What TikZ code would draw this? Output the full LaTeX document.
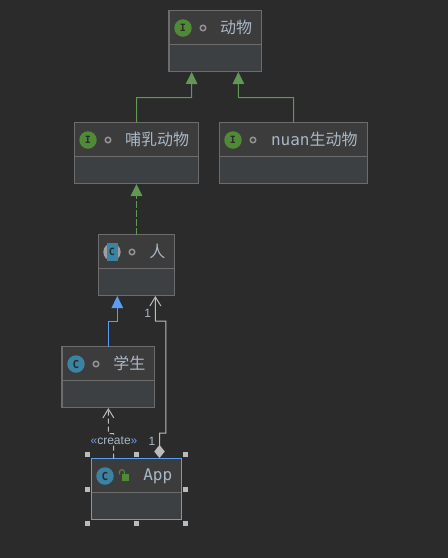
\documentclass[tikz,border=0pt]{standalone}
\usepackage{fontspec}
\setmainfont{Liberation Sans}
\newfontfamily\cjkf{Noto Sans CJK SC}
\newfontfamily\monof{DejaVu Sans Mono}
\usetikzlibrary{arrows.meta,calc}
\definecolor{bg}{HTML}{2B2B2B}
\definecolor{head}{HTML}{3C3C3C}
\definecolor{bodyc}{HTML}{3C4043}
\definecolor{edge}{HTML}{6C6C6C}
\definecolor{txt}{HTML}{A9B7C6}
\definecolor{grn}{HTML}{629755}
\definecolor{grnicon}{HTML}{4F8A35}
\definecolor{blu}{HTML}{589DF6}
\definecolor{teal}{HTML}{3A83A3}
\definecolor{wht}{HTML}{BBBBBB}
\tikzset{
  umlbox/.style={fill=bodyc,anchor=north west,outer sep=0pt,inner sep=0pt,minimum height=61pt,
    path picture={
      \fill[head] (path picture bounding box.north west) rectangle ($(path picture bounding box.north east)+(0,34)$);
      \draw[edge,line width=.8pt] ($(path picture bounding box.north west)+(0,34)$) -- ($(path picture bounding box.north east)+(0,34)$);
    }},
  boxline/.style={draw=edge,line width=1.1pt},
  selline/.style={draw=blu,line width=1.6pt},
  ilabel/.style={circle,fill=grnicon,minimum size=17.5pt,inner sep=0pt,text=bg,font=\bfseries\fontsize{10}{10}\selectfont\monof},
  clabel/.style={circle,fill=teal,minimum size=17.5pt,inner sep=0pt,text=bg,font=\bfseries\fontsize{11}{11}\selectfont\monof},
  ring/.style={circle,draw=gray!85,line width=1.5pt,minimum size=5.5pt,inner sep=0pt},
  title/.style={text=txt,font=\fontsize{16}{16}\selectfont\cjkf,inner sep=0pt},
  mtitle/.style={text=txt,font=\fontsize{16}{16}\selectfont\monof,inner sep=0pt},
  impl/.style={grn,line width=1pt,-{Triangle[length=12pt,width=11.5pt]}},
  ext/.style={blu,line width=1pt,-{Triangle[length=12pt,width=11.5pt]}},
  openarrow/.style={wht,line width=1pt,-{Straight Barb[length=9pt,width=11pt,line width=1pt]}},
  card/.style={text=txt,font=\fontsize{12}{12}\selectfont,inner sep=0pt},
  handle/.style={fill=wht,minimum size=5pt,inner sep=0pt,outer sep=0pt},
}
\begin{document}
\begin{tikzpicture}[x=1pt,y=-1pt]
\path[use as bounding box,fill=bg] (0,0) rectangle (448,558);
% boxes
\node[umlbox,minimum width=92.5pt] (dw) at (169,10.5) {};
\node[umlbox,minimum width=124pt] (br) at (74.5,122.5) {};
\node[umlbox,minimum width=148pt] (nu) at (219.5,122.5) {};
\node[umlbox,minimum width=76pt] (ren) at (98.5,234.5) {};
\node[umlbox,minimum width=92.5pt] (xs) at (62,346.5) {};
\node[umlbox,minimum width=90pt] (app) at (91.5,458.5) {};
\foreach \n in {dw,br,nu,ren,xs} \draw[boxline] (\n.north west) rectangle (\n.south east);
\draw[selline] (app.north west) rectangle (app.south east);
% icons
\node[ilabel] (dwi) at (183,28) {I};
\node[ilabel] (bri) at (88,140) {I};
\node[ilabel] (nui) at (233,140) {I};
\fill[gray!75] (112,252) circle (8.7);
\node[clabel,shape=rectangle,minimum width=11pt,minimum height=17.5pt,font=\bfseries\fontsize{10}{10}\selectfont\monof] (reni) at (112,252) {C};
\node[clabel] (xsi) at (76,364) {C};
\node[clabel] (appi) at (105,476) {C};
% visibility
\node[ring] (dwr) at (203,28) {};
\node[ring] (brr) at (108,140) {};
\node[ring] (nur) at (253,140) {};
\node[ring] (renr) at (132,252) {};
\node[ring] (xsr) at (96,364) {};
\fill[grnicon] (121.8,474.4) rectangle (129,480.6);
\draw[grnicon,line width=1.1pt] (119.5,474.4) -- (119.5,472) arc[start angle=180,end angle=0,x radius=2.4,y radius=-2.4] -- (124.3,474.4);
% titles
\node[title] (dwt) at (236,27.5) {动物};
\node[title] (brt) at (157,139) {哺乳动物};
\node[text=txt,inner sep=0pt] (nut) at (314.3,139) {\fontsize{16}{16}\selectfont\monof nuan\cjkf 生动物};
\node[title] (rent) at (157.3,251) {人};
\node[title] (xst) at (129.3,363) {学生};
\node[mtitle] (appt) at (157.7,476.5) {App};
% connectors
\draw[impl] (br.north) |- ++(55,-25) -- ($(dw.south west)+(22.7,.5)$);
\draw[impl] ($(nu.north west)+(74,0)$) |- ++(-55,-25) -- ($(dw.south west)+(69.3,.5)$);
\draw[impl,dash pattern=on 7pt off 2pt] (ren.north) -- ($(br.south west)+(62,.5)$);
\draw[ext] ($(xs.north west)+(46.3,0)$) |- ++(9,-25) -- ($(ren.south west)+(18.8,.5)$);
\draw[openarrow,{Diamond[length=13pt,width=10.5pt,fill=wht]}-{Straight Barb[length=9pt,width=11pt,line width=1pt]}] ($(app.north west)+(68,-.5)$) |- ++(6.4,-25) |- ++(-10.4,-112) -- ($(ren.south west)+(56.8,.5)$);
\draw[openarrow,dash pattern=on 5pt off 3pt] ($(app.north west)+(22,0)$) |- ++(-5,-25) -- ($(xs.south west)+(46.3,.5)$);
% labels
\node[card] (c1) at (147.7,313.5) {1};
\node[card] (c2) at (152,441.5) {1};
\node[fill=bg,inner sep=0pt,text=txt,font=\fontsize{12}{12}\selectfont] (cr) at (114,441) {\textcolor{blu!80!txt}{«}create\textcolor{blu!80!txt}{»}};
% selection handles
\node[handle] (h1) at ($(app.north west)+(-4,-4)$) {};
\node[handle] (h2) at ($(app.north)+(0,-4)$) {};
\node[handle] (h3) at ($(app.north east)+(4,-4)$) {};
\node[handle] (h4) at ($(app.west)+(-4,0)$) {};
\node[handle] (h5) at ($(app.east)+(4,0)$) {};
\node[handle] (h6) at ($(app.south west)+(-4,4)$) {};
\node[handle] (h7) at ($(app.south)+(0,4)$) {};
\node[handle] (h8) at ($(app.south east)+(4,4)$) {};
\end{tikzpicture}
\end{document}
